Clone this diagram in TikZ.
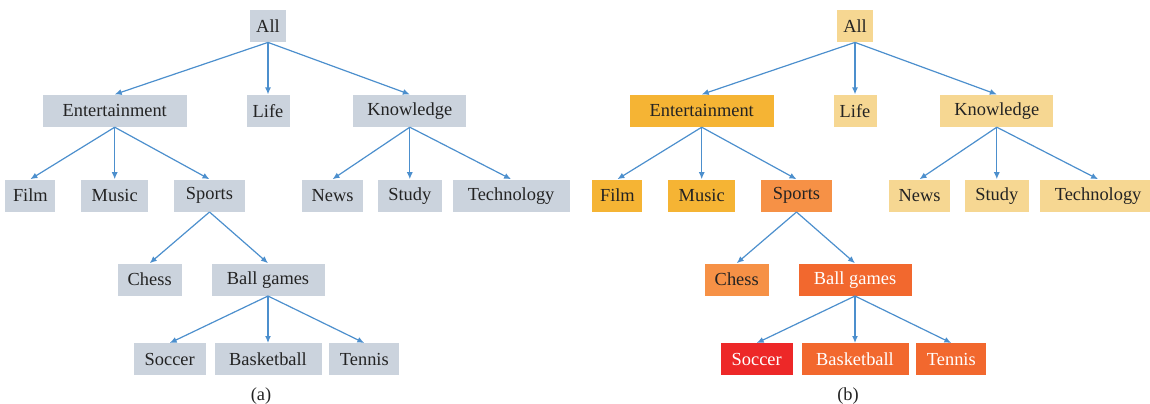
\documentclass[tikz,border=0pt]{standalone}
\usepackage{fontspec}
\setmainfont{Liberation Serif}
\usetikzlibrary{positioning,arrows.meta}
\definecolor{boxgrey}{RGB}{203,211,221}
\definecolor{boxpale}{RGB}{246,215,146}
\definecolor{boxgold}{RGB}{245,180,52}
\definecolor{boxorange}{RGB}{246,145,70}
\definecolor{boxflame}{RGB}{242,104,46}
\definecolor{boxred}{RGB}{237,40,40}
\definecolor{linkblue}{RGB}{76,143,205}
\definecolor{inkgrey}{RGB}{35,35,35}

\begin{document}
\begin{tikzpicture}[
				cat/.style={rectangle, minimum height=16pt, inner sep=0pt, text=inkgrey, font=\fontsize{9.2}{11}\selectfont},
				greybox/.style={cat, fill=boxgrey},
				palebox/.style={cat, fill=boxpale},
				goldbox/.style={cat, fill=boxgold},
				orangebox/.style={cat, fill=boxorange},
				flamebox/.style={cat, fill=boxflame, text=white},
				redbox/.style={cat, fill=boxred, text=white},
				caption/.style={rectangle, inner sep=0pt, text=inkgrey, font=\fontsize{9.2}{11}\selectfont}
			]
			\useasboundingbox (0,0) rectangle (575pt,-201.5pt);
			% panel (a)
			\node[greybox, minimum width=18pt] (aall) at (134pt,-13pt) {All};
			\node[greybox, minimum width=21.5pt] (alife) [below=26pt of aall] {Life};
			\node[greybox, minimum width=72pt] (aent) [left=29.5pt of alife] {Entertainment};
			\node[greybox, minimum width=56.5pt] (aknow) [right=31.5pt of alife] {Knowledge};
			\node[greybox, minimum width=33.5pt] (amusic) [below=26pt of aent] {Music};
			\node[greybox, minimum width=25pt] (afilm) [left=12.5pt of amusic] {Film};
			\node[greybox, minimum width=35.5pt] (asports) [right=12.5pt of amusic] {Sports};
			\node[greybox, minimum width=32pt] (astudy) [below=26pt of aknow] {Study};
			\node[greybox, minimum width=30.5pt] (anews) [left=7pt of astudy] {News};
			\node[greybox, minimum width=58.5pt] (atech) [right=5pt of astudy] {Technology};
			\node[greybox, minimum width=56.5pt] (aball) [below=68pt of alife] {Ball games};
			\node[greybox, minimum width=32pt] (achess) [left=14.5pt of aball] {Chess};
			\node[greybox, minimum width=53.5pt] (abasket) [below=23.5pt of aball] {Basketball};
			\node[greybox, minimum width=36pt] (asoccer) [left=4pt of abasket] {Soccer};
			\node[greybox, minimum width=35pt] (atennis) [right=3.5pt of abasket] {Tennis};
			\node[caption] (acap) [below=6pt of abasket, xshift=-3.5pt] {(a)};
			% panel (b)
			\node[palebox, minimum width=18pt] (ball) at (427.5pt,-13pt) {All};
			\node[palebox, minimum width=21.5pt] (blife) [below=26pt of ball] {Life};
			\node[goldbox, minimum width=72pt] (bent) [left=29.5pt of blife] {Entertainment};
			\node[palebox, minimum width=56.5pt] (bknow) [right=31.5pt of blife] {Knowledge};
			\node[goldbox, minimum width=33.5pt] (bmusic) [below=26pt of bent] {Music};
			\node[goldbox, minimum width=25pt] (bfilm) [left=12.5pt of bmusic] {Film};
			\node[orangebox, minimum width=35.5pt] (bsports) [right=12.5pt of bmusic] {Sports};
			\node[palebox, minimum width=32pt] (bstudy) [below=26pt of bknow] {Study};
			\node[palebox, minimum width=30.5pt] (bnews) [left=7pt of bstudy] {News};
			\node[palebox, minimum width=58.5pt] (btech) [right=5pt of bstudy] {Technology};
			\node[flamebox, minimum width=56.5pt] (bball) [below=68pt of blife] {Ball games};
			\node[orangebox, minimum width=32pt] (bchess) [left=14.5pt of bball] {Chess};
			\node[flamebox, minimum width=53.5pt] (bbasket) [below=23.5pt of bball] {Basketball};
			\node[redbox, minimum width=36pt] (bsoccer) [left=4pt of bbasket] {Soccer};
			\node[flamebox, minimum width=35pt] (btennis) [right=3.5pt of bbasket] {Tennis};
			\node[caption] (bcap) [below=6pt of bbasket, xshift=-3.5pt] {(b)};
			\begin{scope}[draw=linkblue, line width=0.6pt, -{Latex[length=3.5pt,width=3pt]}]
			\draw (aall.south) -- (aent.north);
			\draw (aall.south) -- (alife.north);
			\draw (aall.south) -- (aknow.north);
			\draw (aent.south) -- (afilm.north);
			\draw (aent.south) -- (amusic.north);
			\draw (aent.south) -- (asports.north);
			\draw (aknow.south) -- (anews.north);
			\draw (aknow.south) -- (astudy.north);
			\draw (aknow.south) -- (atech.north);
			\draw (asports.south) -- (achess.north);
			\draw (asports.south) -- (aball.north);
			\draw (aball.south) -- (asoccer.north);
			\draw (aball.south) -- (abasket.north);
			\draw (aball.south) -- (atennis.north);
			\draw (ball.south) -- (bent.north);
			\draw (ball.south) -- (blife.north);
			\draw (ball.south) -- (bknow.north);
			\draw (bent.south) -- (bfilm.north);
			\draw (bent.south) -- (bmusic.north);
			\draw (bent.south) -- (bsports.north);
			\draw (bknow.south) -- (bnews.north);
			\draw (bknow.south) -- (bstudy.north);
			\draw (bknow.south) -- (btech.north);
			\draw (bsports.south) -- (bchess.north);
			\draw (bsports.south) -- (bball.north);
			\draw (bball.south) -- (bsoccer.north);
			\draw (bball.south) -- (bbasket.north);
			\draw (bball.south) -- (btennis.north);
			\end{scope}
			\end{tikzpicture}
\end{document}
